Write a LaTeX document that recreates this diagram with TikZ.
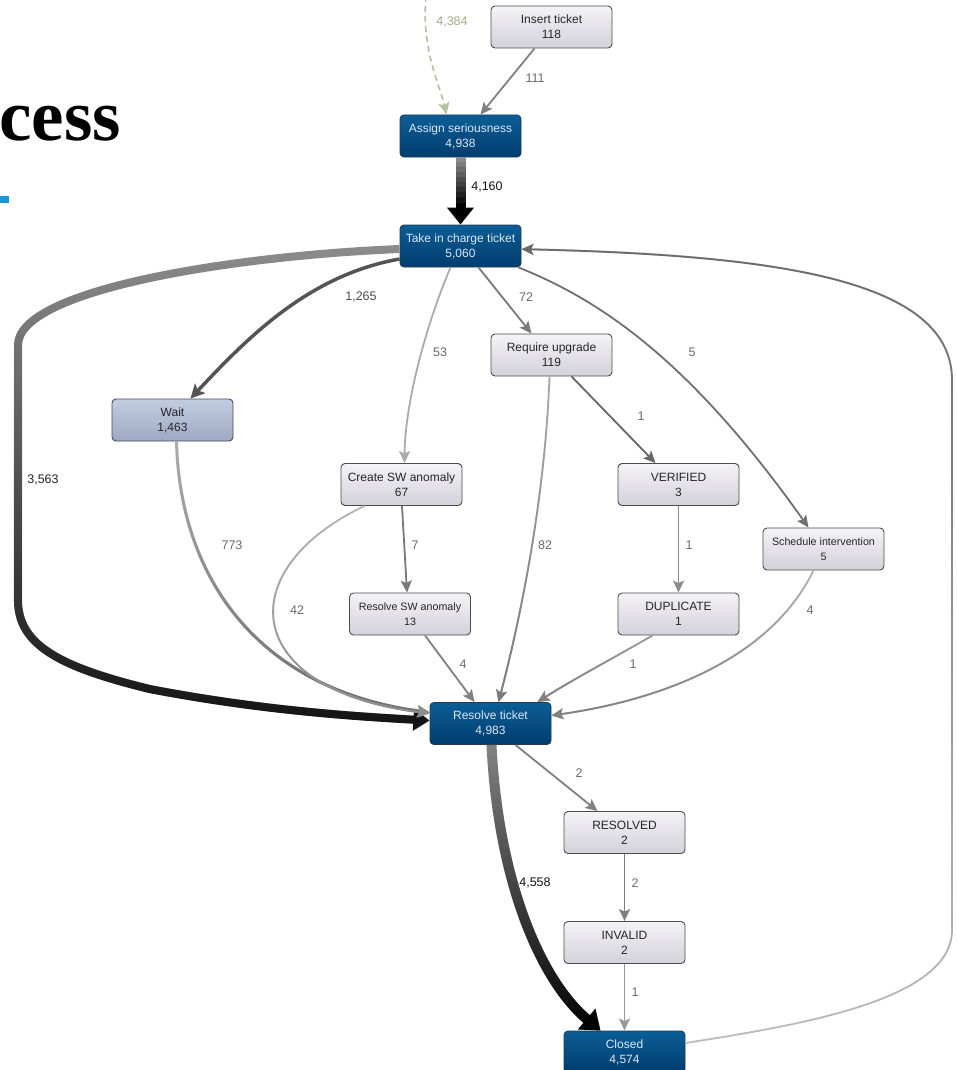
\documentclass[tikz,border=0pt]{standalone}
\usepackage{fontspec}
\setmainfont{Liberation Sans}
\newfontfamily\titlefont{Liberation Serif}
\usetikzlibrary{arrows.meta,fadings,calc}

% fadings used to darken a connector towards one end
\tikzfading[name=fadein, top color=transparent!100, bottom color=transparent!0]
\tikzfading[name=fadeout, top color=transparent!0, bottom color=transparent!100]

\definecolor{bluetop}{HTML}{0B5E96}
\definecolor{bluebot}{HTML}{003C6E}
\definecolor{blueline}{HTML}{1E3A55}
\definecolor{bluetext}{HTML}{DCE8F4}
\definecolor{greytop}{HTML}{F4F3F7}
\definecolor{greybot}{HTML}{D3D1D9}
\definecolor{greyline}{HTML}{4C4C4C}
\definecolor{waittop}{HTML}{C3CDE1}
\definecolor{waitbot}{HTML}{9DA9C3}
\definecolor{waitline}{HTML}{444B5A}
\definecolor{labelgrey}{HTML}{6A6A6A}
\definecolor{sage}{HTML}{B4C2A2}
\definecolor{sagetext}{HTML}{A0AD8C}
\definecolor{shaftgrey}{HTML}{8C8C8C}
\definecolor{barblue}{HTML}{1A96D4}

\tikzset{
  box/.style={rectangle, rounded corners=4pt, minimum width=121pt, minimum height=42pt,
    inner sep=0pt, align=center, font=\fontsize{12}{15}\selectfont, line width=0.9pt},
  hot/.style={box, draw=blueline, top color=bluetop, bottom color=bluebot, text=bluetext},
  act/.style={box, draw=greyline, top color=greytop, bottom color=greybot, text=black!85},
  held/.style={box, draw=waitline, top color=waittop, bottom color=waitbot, text=black!85},
  small/.style={font=\fontsize{10.7}{15}\selectfont},
  count/.style={font=\fontsize{12.5}{14}\selectfont, text=labelgrey, inner sep=1pt},
  link/.style={draw=#1, line width=1.8pt, -{Stealth[length=12pt,width=11pt,inset=2.5pt]}},
  darken/.style={postaction={draw=#1, path fading=fadein}},
  darkentop/.style={postaction={draw=#1, path fading=fadeout}},
  bigtip/.style={-{Triangle[length=#1,width=26pt]}},
}

\begin{document}
\begin{tikzpicture}[x=1pt, y=-1pt]
\useasboundingbox (0,0) rectangle (957,1070);
\fill[white] (0,0) rectangle (957,1070);

% heading and accent bar
\node[anchor=base east, font=\titlefont\bfseries\fontsize{73}{73}\selectfont, inner sep=0pt] (ttl) at (121,140) {cess};
\fill[barblue] (0,196) rectangle (9,203);

% activities
\node[act] (ins) at (551.5,27) {Insert ticket\\118};
\node[hot] (asg) at (460.5,136) {Assign seriousness\\4,938};
\node[hot] (tic) at (460.5,246) {Take in charge ticket\\5,060};
\node[held] (wait) at (172.5,420) {Wait\\1,463};
\node[act] (upg) at (551.5,355) {Require upgrade\\119};
\node[act] (csw) at (401.5,484.5) {Create SW anomaly\\67};
\node[act] (ver) at (678.5,484.5) {VERIFIED\\3};
\node[act, small] (sch) at (823.5,549) {Schedule intervention\\5};
\node[act, small] (rsw) at (410,614) {Resolve SW anomaly\\13};
\node[act] (dup) at (678.5,614) {DUPLICATE\\1};
\node[hot] (rt) at (490.5,723.5) {Resolve ticket\\4,983};
\node[act] (res) at (624.5,832.5) {RESOLVED\\2};
\node[act] (inv) at (624.5,942.5) {INVALID\\2};
\node[hot] (cls) at (624.5,1052) {Closed\\4,574};

% incoming flow from outside the view
\coordinate (entry) at (426,-4);
\draw[draw=sage, line width=1.6pt, dash pattern=on 6pt off 4pt,
      -{Stealth[length=12pt,width=11pt,inset=2.5pt]}]
  (entry) .. controls (421,50) and (440,85) .. ($(asg.north)+(-14,0)$);

\draw[link=black!50] ($(ins.south)+(-17,0)$) -- ($(asg.north)+(20,0)$);

% main flow Assign -> Take in charge, grey to black
\draw[line width=10pt, black, bigtip=17pt] (asg.south) -- (tic.north);
\foreach \i in {0,...,8} {
  \pgfmathsetmacro\p{\i*11}
  \draw[line width=10pt, draw=black!\p!shaftgrey]
    ($(asg.south)+(0,\i*5)$) -- ($(asg.south)+(0,\i*5+5.6)$);
}

% Take in charge -> Resolve ticket (direct)
\draw[draw=shaftgrey, line width=8pt, -{Triangle[length=16pt,width=21pt]}, darken=black!92]
  ($(tic.west)+(0,3)$) .. controls (230,256) and (18,290) .. (18,345)
  -- (18,600) .. controls (18,645) and (60,667) .. (150,689)
  .. controls (260,710) and (350,716) .. ($(rt.west)+(0,-3)$);

\draw[draw=black!67, line width=3.5pt, -{Stealth[length=14pt,width=14pt,inset=3pt]}]
  ($(tic.west)+(0,13)$) .. controls (310,275) and (250,335) .. ($(wait.north)+(18,0)$);

\draw[link=black!33] ($(tic.south)+(-10,0)$) .. controls (428,320) and (405,400) .. ($(csw.north)+(3,0)$);
\draw[link=black!52] ($(tic.south)+(18,0)$) -- ($(upg.north)+(-20,0)$);
\draw[link=black!56] ($(tic.south)+(58,0)$) .. controls (600,300) and (690,360) .. ($(sch.north)+(-15,0)$);

% Closed -> Take in charge (loop back)
\draw[link=black!26, darkentop=black!58]
  ($(cls.east)+(0,-9)$) .. controls (800,1025) and (952,1000) .. (952,930)
  -- (952,380) .. controls (952,280) and (780,255) .. ($(tic.east)+(0,3)$);

\draw[link=black!32, line width=3pt, darken=black!56]
  ($(wait.south)+(4,0)$) .. controls (180,580) and (260,690) .. ($(rt.west)+(0,-11)$);
\draw[link=black!29, darken=black!45]
  ($(csw.south)+(-37,0)$) .. controls (230,570) and (240,690) .. ($(rt.west)+(0,-10)$);
\draw[link=black!53] ($(csw.south)+(0.5,0)$) -- ($(rsw.north)+(-3,0)$);
\draw[link=black!34, darken=black!52]
  ($(upg.south)+(-2,0)$) .. controls (545,500) and (520,620) .. ($(rt.north)+(8,0)$);
\draw[link=black!60] ($(upg.south)+(20,0)$) -- ($(ver.north)+(-23,0)$);
\draw[link=black!45] (ver.south) -- (dup.north);
\draw[link=black!50] ($(rsw.south)+(15,0)$) -- ($(rt.north)+(-16,0)$);
\draw[link=black!40, darken=black!50]
  ($(dup.south)+(-26,0)$) .. controls (610,660) and (572,680) .. ($(rt.north)+(47,0)$);
\draw[link=black!30, darken=black!50]
  ($(sch.south)+(-10,0)$) .. controls (770,660) and (660,700) .. ($(rt.east)+(0,-8)$);
\draw[link=black!50] ($(rt.south)+(25,0)$) -- ($(res.north)+(-27,0)$);

% Resolve ticket -> Closed, grey to black
\draw[draw=black!48, line width=10pt, -{Triangle[length=18pt,width=26pt]}, darken=black]
  ($(rt.south)+(1,0)$) .. controls (498,880) and (540,980) .. ($(cls.north)+(-24,0)$);

\draw[link=black!50] (res.south) -- (inv.north);
\draw[link=black!40] (inv.south) -- (cls.north);

% flow counts
\node[count, text=sagetext] (c1) at (452,22) {4,384};
\node[count] (c2) at (535,78) {111};
\node[count, text=black!92] (c3) at (487,187) {4,160};
\node[count, text=black!70] (c4) at (361,297) {1,265};
\node[count] (c5) at (440,352) {53};
\node[count] (c6) at (526,297) {72};
\node[count] (c7) at (692,352) {5};
\node[count, text=black!85] (c8) at (43,480) {3,563};
\node[count] (c9) at (232,545) {773};
\node[count] (c10) at (297,610) {42};
\node[count] (c11) at (415,545) {7};
\node[count] (c12) at (545,545) {82};
\node[count] (c13) at (641,416) {1};
\node[count] (c14) at (689,545) {1};
\node[count] (c15) at (810,610) {4};
\node[count] (c16) at (463,664) {4};
\node[count] (c17) at (633,664) {1};
\node[count] (c18) at (579,773) {2};
\node[count, text=black!92] (c19) at (535,883) {4,558};
\node[count] (c20) at (635,883) {2};
\node[count] (c21) at (635,992) {1};
\end{tikzpicture}
\end{document}
